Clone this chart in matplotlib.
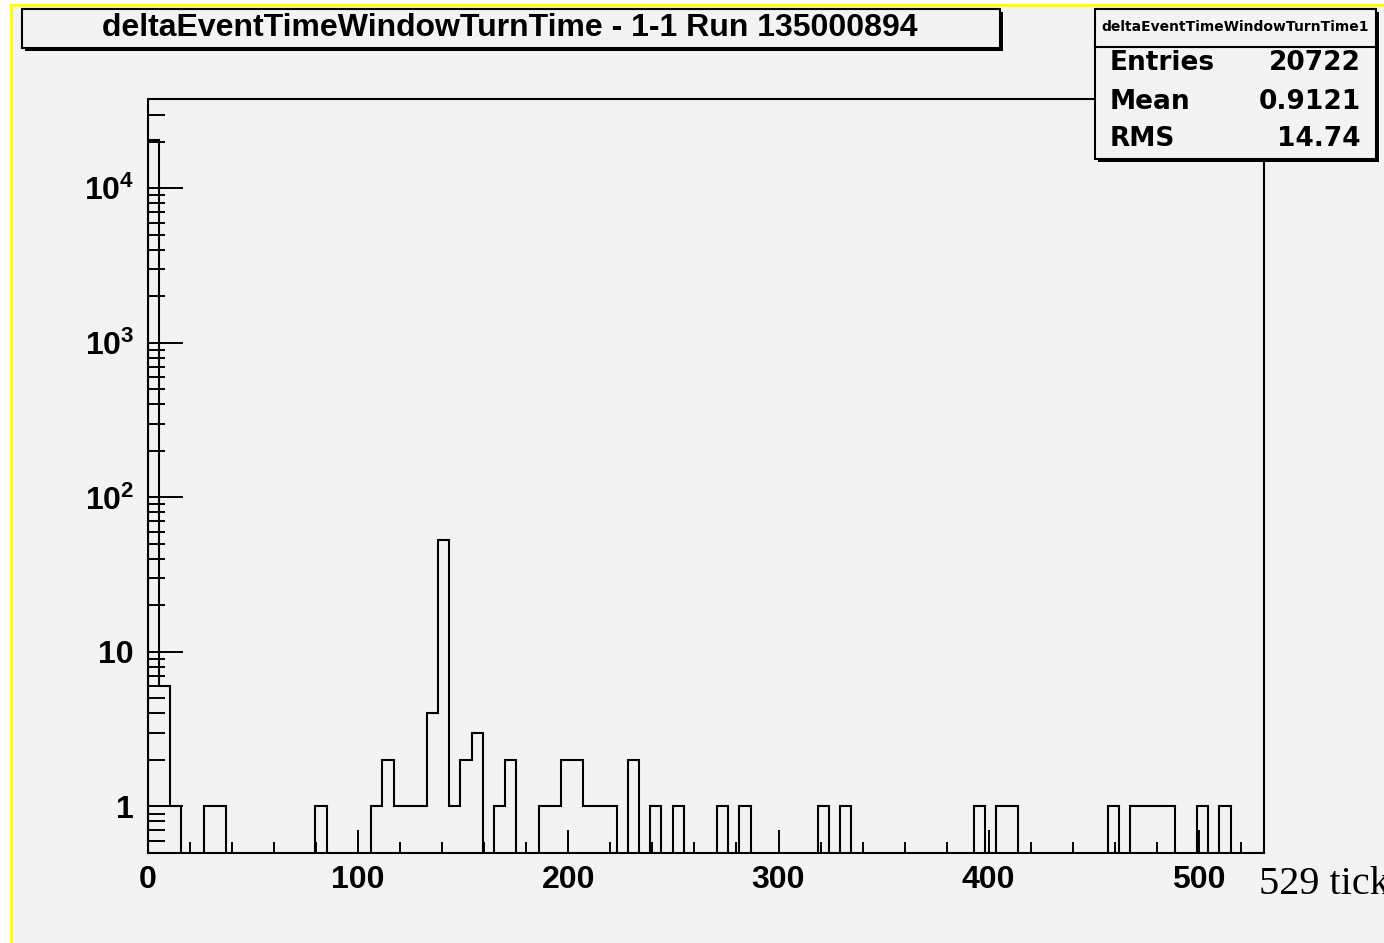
import numpy as np
import matplotlib
matplotlib.use("Agg")
import matplotlib.pyplot as plt
from matplotlib.patches import Rectangle
from matplotlib.lines import Line2D
from matplotlib.ticker import LogLocator, MultipleLocator, NullFormatter, FixedLocator, FixedFormatter

# ---------------- data ----------------
title = "deltaEventTimeWindowTurnTime - 1-1 Run 135000894"
hist_name = "deltaEventTimeWindowTurnTime1"
stats_labels = ["Entries", "Mean", "RMS"]
stats_values = ["20722", "0.9121", "14.74"]
corner_note = "529 ticks"

x_min, x_max, n_bins = 0.0, 531.0, 100
counts = [
    20613, 6, 1, 0, 0, 1, 1, 0, 0, 0,      # 0-9
    0, 0, 0, 0, 0, 1, 0, 0, 0, 0,          # 10-19
    1, 2, 1, 1, 1, 4, 53, 1, 2, 3,         # 20-29
    0, 1, 2, 0, 0, 1, 1, 2, 2, 1,          # 30-39
    1, 1, 0, 2, 0, 1, 0, 1, 0, 0,          # 40-49
    0, 1, 0, 1, 0, 0, 0, 0, 0, 0,          # 50-59
    1, 0, 1, 0, 0, 0, 0, 0, 0, 0,          # 60-69
    0, 0, 0, 0, 1, 0, 1, 1, 0, 0,          # 70-79
    0, 0, 0, 0, 0, 0, 1, 0, 1, 1,          # 80-89
    1, 1, 0, 0, 1, 0, 1, 0, 0, 0,          # 90-99
]
y_min, y_max = 0.5, 3.78e4
x_ticks = [0, 100, 200, 300, 400, 500]
x_tick_labels = ["0", "100", "200", "300", "400", "500"]
y_ticks = [1, 10, 100, 1000, 10000]
y_tick_labels = ["1", "10", r"$\mathbf{10^{2}}$", r"$\mathbf{10^{3}}$", r"$\mathbf{10^{4}}$"]

# ---------------- style ----------------
W, H = 1384, 943
BG = "#f3f3f3"
plt.rcParams["mathtext.fontset"] = "custom"
plt.rcParams["mathtext.bf"] = "Liberation Sans:bold"
plt.rcParams["mathtext.rm"] = "Liberation Sans:bold"

fig = plt.figure(figsize=(W / 100, H / 100), dpi=100)
fig.patch.set_facecolor("white")


def fx(x):
    return x / W


def fy(y):
    return 1 - y / H


def rect_px(x0, y0, x1, y1, **kw):
    return Rectangle((fx(x0), fy(y1)), (x1 - x0) / W, (y1 - y0) / H,
                     transform=fig.transFigure, **kw)


# canvas background with yellow highlight border
fig.patches.append(rect_px(10, 4, W + 5, H + 5, facecolor="#ffff00", edgecolor="none", zorder=-2))
fig.patches.append(rect_px(13, 7, W + 5, H + 5, facecolor=BG, edgecolor="none", zorder=-1))

# ---------------- axes ----------------
ax_l, ax_r, ax_t, ax_b = 148, 1264, 99, 853
ax = fig.add_axes([fx(ax_l), fy(ax_b), (ax_r - ax_l) / W, (ax_b - ax_t) / H])
ax.set_zorder(1)
ax.set_facecolor(BG)

edges = np.linspace(x_min, x_max, n_bins + 1)
vals = np.asarray(counts, dtype=float)
plot_vals = np.where(vals > 0, vals, 1e-3)
ax.stairs(plot_vals, edges, baseline=1e-3, color="black", linewidth=1.5, zorder=3)

ax.set_yscale("log")
ax.set_xlim(x_min, x_max)
ax.set_ylim(y_min, y_max)

for s in ax.spines.values():
    s.set_linewidth(1.5)
    s.set_color("black")

ax.xaxis.set_major_locator(FixedLocator(x_ticks))
ax.xaxis.set_major_formatter(FixedFormatter(x_tick_labels))
ax.xaxis.set_minor_locator(MultipleLocator(20))
ax.yaxis.set_major_locator(FixedLocator(y_ticks))
ax.yaxis.set_major_formatter(FixedFormatter(y_tick_labels))
ax.yaxis.set_minor_locator(LogLocator(base=10, subs=np.arange(2, 10)))
ax.yaxis.set_minor_formatter(NullFormatter())

ax.tick_params(axis="both", which="both", direction="in", top=False, right=False, colors="black")
ax.tick_params(axis="x", which="major", length=16.5, width=1.4, pad=9)
ax.tick_params(axis="x", which="minor", length=8, width=1.4)
ax.tick_params(axis="y", which="major", length=25, width=1.4, pad=10)
ax.tick_params(axis="y", which="minor", length=12.5, width=1.4)
for lab in ax.get_xticklabels() + ax.get_yticklabels():
    lab.set_fontfamily("Liberation Sans")
    lab.set_fontweight("bold")
    lab.set_fontsize(23)

# ---------------- title box ----------------
sh = 3
fig.patches.append(rect_px(22 + sh, 9 + sh, 1000 + sh, 48 + sh, facecolor="black", edgecolor="none", zorder=5))
fig.patches.append(rect_px(22, 9, 1000, 48, facecolor=BG, edgecolor="black", linewidth=1.5, zorder=6))
fig.text(fx(510), fy(28), title, ha="center", va="center", fontsize=23,
         fontfamily="Liberation Sans", fontweight="bold", zorder=7)

# ---------------- stats box ----------------
sx0, sy0, sx1, sy1 = 1095, 9, 1376, 159
fig.patches.append(rect_px(sx0 + sh, sy0 + sh, sx1 + sh, sy1 + sh, facecolor="black", edgecolor="none", zorder=5))
fig.patches.append(rect_px(sx0, sy0, sx1, sy1, facecolor=BG, edgecolor="black", linewidth=1.5, zorder=6))
fig.lines.append(Line2D([fx(sx0), fx(sx1)], [fy(46.5), fy(46.5)], transform=fig.transFigure,
                        color="black", linewidth=1.5, zorder=7))
fig.text(fx((sx0 + sx1) / 2), fy(27), hist_name, ha="center", va="center", fontsize=10,
         fontfamily="DejaVu Sans", fontweight="bold", zorder=8)
row_y = [63, 102, 139]
for lab, val, yy in zip(stats_labels, stats_values, row_y):
    fig.text(fx(1110), fy(yy), lab, ha="left", va="center", fontsize=19,
             fontfamily="DejaVu Sans", fontweight="bold", zorder=8)
    fig.text(fx(1361), fy(yy), val, ha="right", va="center", fontsize=19,
             fontfamily="DejaVu Sans", fontweight="bold", zorder=8)

# ---------------- corner note ----------------
fig.text(fx(1259), fy(894), corner_note, ha="left", va="baseline", fontsize=29,
         fontfamily="Liberation Serif", zorder=8)

fig.savefig("out.png", dpi=100, facecolor=fig.get_facecolor())
